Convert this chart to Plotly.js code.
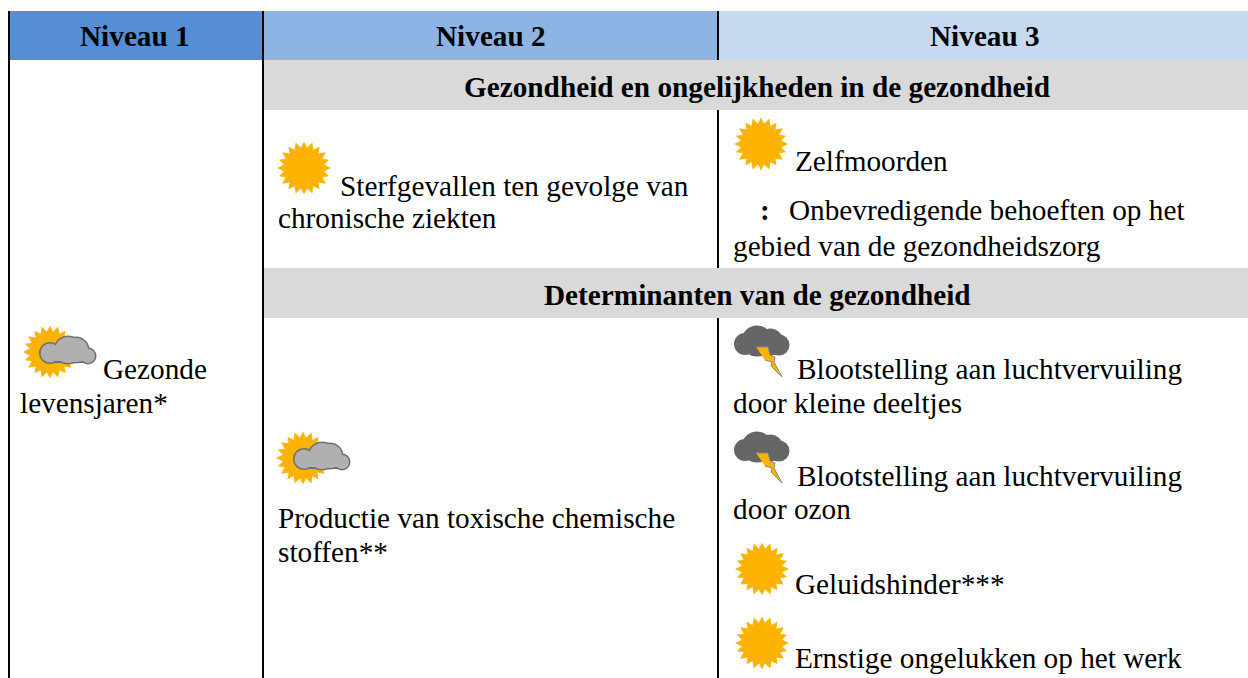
<!DOCTYPE html>
<html>
<head>
<meta charset="utf-8">
<script src="https://cdn.plot.ly/plotly-3.0.1.min.js"></script>
<style>html,body{margin:0;padding:0;background:#fff}#c{width:1248px;height:678px}</style>
</head>
<body>
<div id="c"></div>
<script>
// ---- table content ----
const headerLabels = ["Niveau 1", "Niveau 2", "Niveau 3"];
const headerColors = ["#558ED5", "#8EB4E3", "#C6D9F1"];
const headerLeft = [10, 264, 719];
const headerRight = [263, 718, 1248];
const headerCenter = [135, 491, 985];
const bandLabels = ["Gezondheid en ongelijkheden in de gezondheid", "Determinanten van de gezondheid"];
const bandTop = [60, 268];
const bandBottom = [110, 318];
const bandCenterY = [87, 295];

const bodyText = ["Gezonde", "levensjaren*", "Sterfgevallen ten gevolge van", "chronische ziekten",
  "Zelfmoorden", "Onbevredigende behoeften op het", "gebied van de gezondheidszorg",
  "Blootstelling aan luchtvervuiling", "door kleine deeltjes",
  "Blootstelling aan luchtvervuiling", "door ozon", "Geluidshinder***", "Ernstige ongelukken op het werk",
  "Productie van toxische chemische", "stoffen**"];
const bodyX = [103, 20, 340, 278, 795, 789, 733, 797, 733, 797, 733, 795, 795, 278, 278];
const bodyY = [369, 403, 186, 218, 161, 210, 246, 369, 403, 476, 509, 584, 658, 518, 552];

const sunX = [304, 761, 762, 762, 50, 303];
const sunY = [168, 144, 569, 643, 352, 458];
const rayAngles = [0, 18, 36, 54, 72, 90, 108, 126, 144, 162, 180, 198, 216, 234, 252, 270, 288, 306, 324, 342];
const greyCloudX = [0, 254];
const greyCloudY = [0, 106];
const stormCloudY = [0, 106];
const puffX = [50, 68, 76, 88];
const puffY = [353, 350, 350, 356];
const puffSize = [19, 26, 24, 14];
const stormPuffX = [745, 757, 770, 779];
const stormPuffY = [344, 341, 342, 345];
const stormPuffSize = [19, 28, 24, 18];
const boltX = [756, 768, 770, 775, 774, 782, 771, 772, 765];
const boltY = [347, 347, 355, 357, 362, 377, 366, 362, 360];

// ---- helper traces ----
const traces = [];
function base(x, y, extra) {
  return Object.assign({x, y, type: "scatter", hoverinfo: "skip", showlegend: false, cliponaxis: false}, extra);
}
function drawSun(cx, cy) {
  const rx = rayAngles.map((a, i) => cx + (i % 2 ? 18.5 : 18) * Math.sin(a * Math.PI / 180));
  const ry = rayAngles.map((a, i) => cy - (i % 2 ? 18.5 : 18) * Math.cos(a * Math.PI / 180));
  traces.push(base(rx, ry, {mode: "markers", marker: {symbol: "diamond-tall", size: 12, color: "#FCB300", opacity: 1, angle: rayAngles, line: {width: 0}}}));
  traces.push(base([cx], [cy], {mode: "markers", marker: {symbol: "circle", size: 32, color: "#FCB300", opacity: 1, line: {width: 0}}}));
}
function drawCloud(dx, dy, xs, ys, sizes, x0, x1, yb, fill, edge, shadow) {
  const px = xs.map(v => v + dx), py = ys.map(v => v + dy);
  if (shadow) traces.push(base([x0 + dx, x1 + dx], [yb + dy + 1.5, yb + dy + 1.5], {mode: "lines", line: {color: shadow, width: 11}}));
  traces.push(base(px, py, {mode: "markers", marker: {size: sizes.map(s => s + 3), color: edge, opacity: 1, line: {width: 0}}}));
  traces.push(base(px, py, {mode: "markers", marker: {size: sizes, color: fill, opacity: 1, line: {width: 0}}}));
  traces.push(base([x0 + dx, x1 + dx], [yb + dy, yb + dy], {mode: "lines", line: {color: fill, width: 10}}));
}
sunX.forEach((x, i) => drawSun(x, sunY[i]));
greyCloudX.forEach((dx, i) => drawCloud(dx, greyCloudY[i], puffX, puffY, puffSize, 50, 88, 356, "#B0B0B0", "#707070", "#707070"));
stormCloudY.forEach(dy => {
  drawCloud(0, dy, stormPuffX, stormPuffY, stormPuffSize, 745, 781, 348, "#666666", "#666666", null);
  traces.push(base(boltX, boltY.map(v => v + dy), {mode: "lines", fill: "toself", fillcolor: "#FCB300", line: {color: "#8A8A8A", width: 1}}));
});

// ---- table frame ----
const shapes = [];
headerLabels.forEach((_, i) => shapes.push({type: "rect", x0: headerLeft[i], x1: headerRight[i], y0: 11, y1: 60, fillcolor: headerColors[i], line: {width: 0}, layer: "below"}));
bandLabels.forEach((_, i) => shapes.push({type: "rect", x0: 264, x1: 1248, y0: bandTop[i], y1: bandBottom[i], fillcolor: "#D9D9D9", line: {width: 0}, layer: "below"}));
const ruleX = [9, 263, 718, 718, 718];
const ruleTop = [11, 11, 11, 110, 318];
const ruleBottom = [678, 678, 60, 268, 678];
const ruleWidth = [2, 2, 2, 2, 2];
ruleX.forEach((x, i) => shapes.push({type: "line", x0: x, x1: x, y0: ruleTop[i], y1: ruleBottom[i], line: {color: "#000", width: ruleWidth[i]}, layer: "below"}));

const serif = "'Liberation Serif','Times New Roman',serif";
const annotations = [];
function label(text, x, y, anchor, bold, size) {
  annotations.push({text: bold ? "<b>" + text + "</b>" : text, x, y, xanchor: anchor, yanchor: "middle", showarrow: false,
    font: {family: serif, size, color: "#000"}, borderpad: 0, borderwidth: 0});
}
headerLabels.forEach((t, i) => label(t, headerCenter[i], 36, "center", true, 29.25));
bandLabels.forEach((t, i) => label(t, 757, bandCenterY[i], "center", true, 29.25));
bodyText.forEach((t, i) => label(t, bodyX[i], bodyY[i], "left", false, 29.25));
label(":", 760, 210, "left", true, 29.25);

const hidden = {visible: false, fixedrange: true};
Plotly.newPlot("c", traces, {
  width: 1248, height: 678, margin: {l: 0, r: 0, t: 0, b: 0},
  paper_bgcolor: "#fff", plot_bgcolor: "#fff", showlegend: false,
  xaxis: Object.assign({range: [0, 1248]}, hidden),
  yaxis: Object.assign({range: [678, 0]}, hidden),
  shapes, annotations
}, {staticPlot: true, displayModeBar: false});
</script>
</body>
</html>
